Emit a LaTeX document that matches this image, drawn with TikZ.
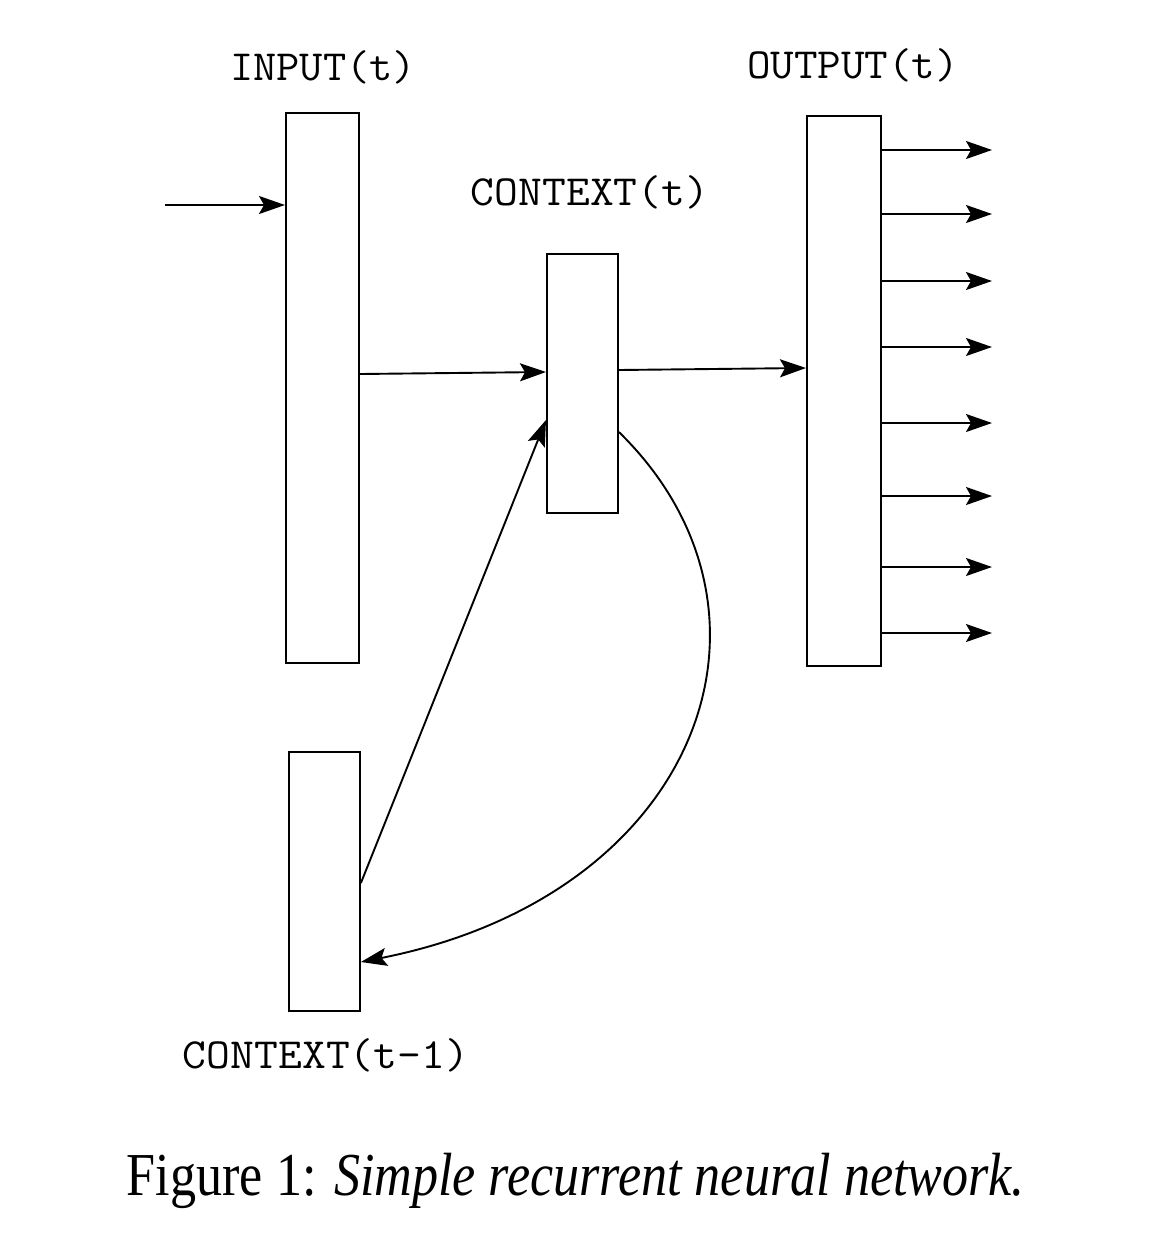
\documentclass[tikz,border=0pt]{standalone}
\usepackage{fontspec}
\setmainfont{Liberation Serif}
\usepackage{graphicx}
\usetikzlibrary{arrows.meta,calc}
\newcommand{\monolab}[2]{\resizebox{#1}{\height}{\ttfamily\fontsize{43}{45}\selectfont #2}}
\begin{document}
\begin{tikzpicture}[x=1pt,y=-1pt,
  layer/.style={draw,line width=1.9pt,rectangle,inner sep=0pt,anchor=north west},
  lbl/.style={anchor=base,inner sep=0pt},
  conn/.style={line width=1.9pt,-{Stealth[length=26pt,width=18pt,inset=5pt]}}]
\useasboundingbox (0,0) rectangle (1160,1254);
% layers
\node[layer,minimum width=73pt,minimum height=550pt] (inp) at (285,112) {};
\node[layer,minimum width=71pt,minimum height=259pt] (ctx) at (546,253) {};
\node[layer,minimum width=74pt,minimum height=550pt] (out) at (806,115) {};
\node[layer,minimum width=71pt,minimum height=259pt] (prev) at (288,751) {};
% labels
\node[lbl] (linp) at (323,80) {\monolab{186pt}{INPUT(t)}};
\node[lbl] (lout) at (853,78) {\monolab{212pt}{OUTPUT(t)}};
\node[lbl] (lctx) at (590,205) {\monolab{238pt}{CONTEXT(t)}};
\node[lbl] (lprev) at (326,1068) {\monolab{286pt}{CONTEXT(t-1)}};
% caption
\node[anchor=base,inner sep=0pt] (cap) at (576,1195)
  {\resizebox{898pt}{\height}{\fontsize{61}{64}\selectfont Figure 1: \textit{Simple recurrent neural network.}}};
% connectors
\coordinate (src) at (165,205);
\draw[conn] (src) -- (inp.west |- src);
\draw[conn] (inp.east |- 0,374) -- (ctx.west |- 0,372);
\draw[conn] (ctx.east |- 0,370) -- (out.west |- 0,368);
\draw[conn] (prev.east |- 0,883) -- (ctx.west |- 0,420);
\draw[conn] (ctx.east |- 0,432) .. controls (803,612) and (700,895) .. (prev.east |- 0,962);
\foreach \yy in {150,214,281,347,423,496,567,633}{
  \coordinate (o\yy) at (992,\yy);
  \draw[conn] (out.east |- o\yy) -- (o\yy);
}
\end{tikzpicture}
\end{document}
